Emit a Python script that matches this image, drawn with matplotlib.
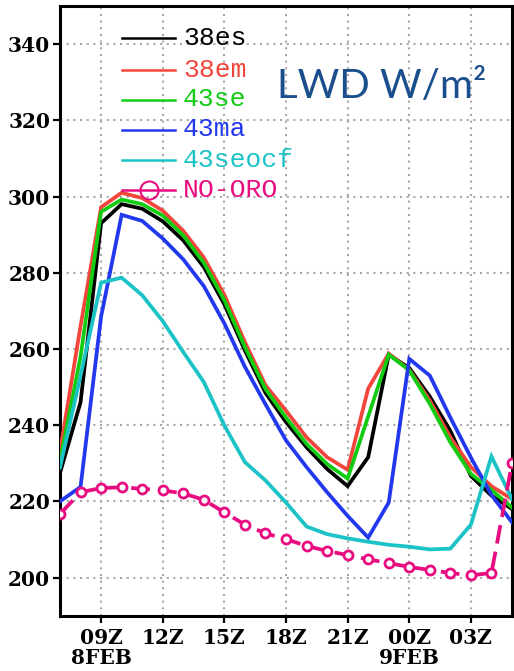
"""
plot.py
=======
LWD (W/m2) time series, 8FEB 07Z to 9FEB 05Z, six model runs.
Writes out.png (514x671 px).
"""

import matplotlib
matplotlib.use("Agg")
import matplotlib.pyplot as plt  # noqa: E402

# --- data -----------------------------------------------------------------
# hours since 8FEB 00Z
hours = list(range(7, 30))

lwd_38es = [227.5, 246.0, 293.0, 298.0, 296.8, 293.5, 288.5, 281.5, 271.7, 259.6,
            248.5, 240.8, 234.2, 228.5, 224.0, 231.6, 258.5, 255.0, 247.5, 238.5,
            226.7, 221.5, 218.0]
lwd_38em = [233.0, 266.0, 297.2, 301.0, 299.6, 296.3, 291.0, 284.0, 274.2, 261.8,
            250.5, 243.8, 236.8, 231.6, 228.3, 249.6, 258.8, 254.5, 246.5, 236.8,
            229.0, 224.0, 220.6]
lwd_43se = [230.5, 258.0, 296.0, 299.2, 298.0, 295.0, 289.8, 282.6, 272.8, 260.5,
            249.5, 242.0, 235.1, 229.8, 226.0, 242.3, 258.5, 254.4, 245.6, 235.5,
            227.2, 223.0, 218.4]
lwd_43ma = [220.0, 223.8, 268.5, 295.2, 293.6, 289.0, 283.5, 276.5, 266.7, 255.3,
            245.5, 236.0, 229.0, 222.4, 216.2, 210.5, 219.7, 257.4, 253.0, 242.0,
            231.5, 221.7, 214.5]
lwd_43seocf = [228.9, 253.0, 277.4, 278.7, 274.1, 267.3, 259.2, 251.3, 239.9, 230.3,
               225.5, 219.7, 213.4, 211.4, 210.3, 209.4, 208.6, 208.1, 207.4, 207.6,
               213.9, 231.8, 220.6]
lwd_nooro = [216.7, 222.4, 223.5, 223.7, 223.3, 222.9, 222.1, 220.4, 217.1, 213.9,
             211.6, 210.1, 208.3, 207.0, 205.9, 204.8, 203.8, 202.8, 202.0, 201.2,
             200.6, 201.2, 230.0]

series_names = ["38es", "38em", "43se", "43ma", "43seocf", "NO-ORO"]
series_colors = ["#000000", "#f2453b", "#12cc12", "#2238ee", "#1cc3c6", "#e80c80"]

xtick_hours = [9, 12, 15, 18, 21, 24, 27]
xtick_labels = ["09Z\n8FEB", "12Z", "15Z", "18Z", "21Z", "00Z\n9FEB", "03Z"]
ytick_values = [200, 220, 240, 260, 280, 300, 320, 340]

TICK_FONT = ["DejaVu Serif"]
LEGEND_FONT = ["Liberation Mono", "DejaVu Sans Mono"]


def main() -> None:
    fig = plt.figure(figsize=(5.14, 6.71), dpi=100)
    W, H = 514, 671
    left, right, top, bottom = 60, 512, 6, 615.7
    ax = fig.add_axes([left / W, (H - bottom) / H, (right - left) / W, (bottom - top) / H])

    all_series = [lwd_38es, lwd_38em, lwd_43se, lwd_43ma, lwd_43seocf]
    for vals, col in zip(all_series, series_colors[:5]):
        ax.plot(hours, vals, color=col, lw=2.7, solid_joinstyle="miter", zorder=3)

    ax.plot(hours, lwd_nooro, color=series_colors[5], lw=2.7,
            linestyle=(0, (5, 2.2)), marker="o", ms=6.5, mfc="white",
            mec=series_colors[5], mew=2.0, zorder=3)

    # --- axes ------------------------------------------------------------
    ax.set_xlim(7, 29)
    ax.set_ylim(190, 350)
    ax.set_xticks(xtick_hours)
    ax.set_xticklabels(xtick_labels, family=TICK_FONT, fontsize=14.5,
                       fontweight="bold", linespacing=1.0)
    ax.set_yticks(ytick_values)
    ax.set_yticklabels([str(v) for v in ytick_values], family=TICK_FONT,
                       fontsize=14.5, fontweight="bold")
    ax.tick_params(axis="both", direction="out", length=5, width=1.6, pad=2)
    ax.tick_params(axis="x", pad=4)

    ax.set_axisbelow(True)
    ax.grid(True, color="#a8a8a8", lw=1.5, linestyle=(0, (1, 2.2)))
    for sp in ax.spines.values():
        sp.set_linewidth(2.2)

    # --- legend (drawn by hand to match the GrADS layout) ---------------
    row_y = [38.3, 70, 99.5, 129.5, 160, 190]
    for name, col, yp in zip(series_names, series_colors, row_y):
        ya = (bottom - yp) / (bottom - top)
        x0 = (122 - left) / (right - left)
        x1 = (175 - left) / (right - left)
        ax.plot([x0, x1], [ya, ya], color=col, lw=1.8, transform=ax.transAxes,
                clip_on=False, zorder=4)
        if name == "NO-ORO":
            ax.plot([(x0 + x1) / 2], [ya], marker="o", ms=13, mfc="none",
                    mec=col, mew=1.5, transform=ax.transAxes, zorder=4)
        ax.text((183 - left) / (right - left), ya, name, color=col,
                family=LEGEND_FONT, fontsize=19, va="center", ha="left",
                transform=ax.transAxes, zorder=4)

    ax.text((277 - left) / (right - left), (bottom - 98) / (bottom - top),
            "LWD W/m\u00b2", color="#1b4e8c", family=["Lato", "DejaVu Sans"],
            fontsize=29, ha="left", va="baseline", transform=ax.transAxes)

    fig.savefig("out.png", dpi=100)
    plt.close(fig)


if __name__ == "__main__":
    main()
